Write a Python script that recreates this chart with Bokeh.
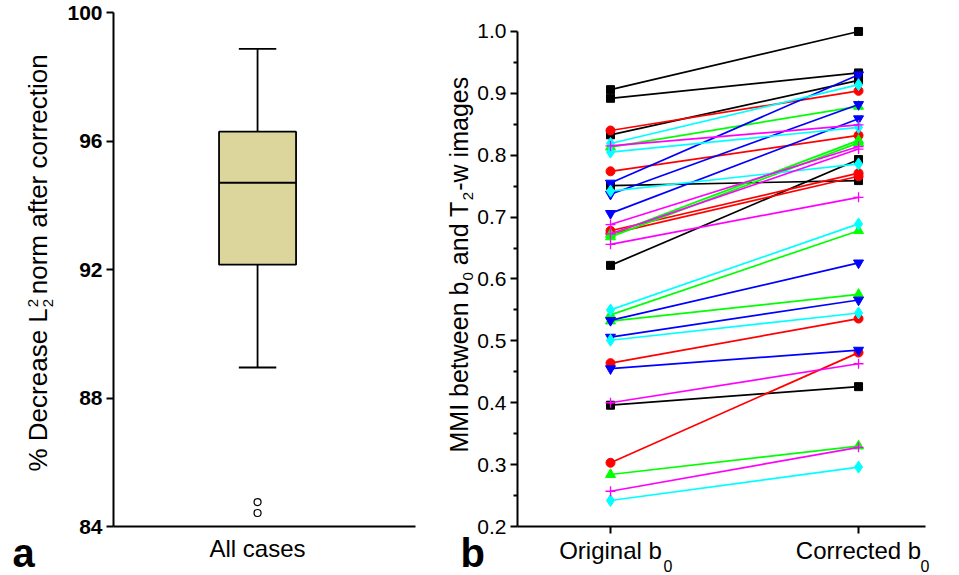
import math
from bokeh.plotting import figure
from bokeh.layouts import row
from bokeh.models import Range1d, FixedTicker, Label, ColumnDataSource, NumeralTickFormatter
from bokeh.embed import file_html
from bokeh.resources import INLINE

# ---------------- Panel a data (box plot summary) ----------------
box_category = "All cases"
box_q1 = 92.15
box_median = 94.70
box_q3 = 96.29
whisker_low = 88.95
whisker_high = 98.87
outliers = [84.76, 84.42]
a_ticks = [84, 88, 92, 96, 100]

# ---------------- Panel b data (paired MMI values) ----------------
categories = ["Original b", "Corrected b"]
b_ticks = [0.2, 0.3, 0.4, 0.5, 0.6, 0.7, 0.8, 0.9, 1.0]
b_minor = [0.25, 0.35, 0.45, 0.55, 0.65, 0.75, 0.85, 0.95]

black_orig = [0.906, 0.892, 0.833, 0.751, 0.622, 0.396]
black_corr = [1.000, 0.933, 0.921, 0.759, 0.793, 0.426]
red_orig = [0.840, 0.774, 0.678, 0.673, 0.464, 0.303]
red_corr = [0.904, 0.832, 0.771, 0.766, 0.536, 0.481]
green_orig = [0.813, 0.672, 0.668, 0.542, 0.532, 0.284]
green_corr = [0.879, 0.824, 0.820, 0.678, 0.575, 0.330]
blue_orig = [0.755, 0.737, 0.706, 0.533, 0.506, 0.455]
blue_corr = [0.930, 0.882, 0.859, 0.626, 0.566, 0.485]
cyan_orig = [0.819, 0.805, 0.742, 0.550, 0.501, 0.242]
cyan_corr = [0.914, 0.845, 0.786, 0.689, 0.545, 0.296]
magenta_orig = [0.815, 0.688, 0.673, 0.656, 0.400, 0.257]
magenta_corr = [0.849, 0.814, 0.810, 0.732, 0.463, 0.328]

FONT = "Liberation Sans"
W, H = 959, 575

# ---- layout geometry (page pixels) ----
A_W = 440                     # width of panel a canvas
A_L, A_R = 113, 415           # axis extent of panel a (page x)
A_T, A_B = 12, 526            # axis extent of panel a (page y)
B_L, B_R = 517, 925           # axis extent of panel b (page x)
B_B = 526                     # page y of panel b x-axis
a_bounds_x = (-0.477, 0.523)
a_bounds_y = (84, 100)
b_bounds_x = (-0.375, 1.27)
b_bounds_y = (0.2, 1.0)
b_ppu = 618.8                 # pixels per unit on panel b y axis


def ax(px):
    return a_bounds_x[0] + (px - A_L) / (A_R - A_L) * (a_bounds_x[1] - a_bounds_x[0])


def ay(py):
    return a_bounds_y[0] + (A_B - py) / (A_B - A_T) * (a_bounds_y[1] - a_bounds_y[0])


def bx(px):
    return b_bounds_x[0] + (px - B_L) / (B_R - B_L) * (b_bounds_x[1] - b_bounds_x[0])


def by(py):
    return b_bounds_y[0] + (B_B - py) / b_ppu


def vlabel(p, fx, fy, px, py, txt, fs, bold=False, angle=math.pi / 2):
    p.add_layout(Label(x=fx(px), y=fy(py), text=txt, angle=angle,
                       text_align="left", text_baseline="middle",
                       text_font=FONT, text_font_size=f"{fs}px",
                       text_font_style="bold" if bold else "normal",
                       text_color="black"))


def style_axis(axis):
    axis.axis_line_width = 2
    axis.major_tick_line_width = 2
    axis.minor_tick_line_width = 2
    axis.major_tick_in = 0
    axis.minor_tick_in = 0
    axis.major_label_text_font = FONT
    axis.major_label_text_color = "black"


# ================= Panel a =================
pa = figure(width=A_W, height=H, title=None, output_backend="svg", toolbar_location=None,
            x_range=Range1d(ax(0), ax(A_W)), y_range=Range1d(ay(H), ay(0)),
            min_border=0)
pa.outline_line_color = None
pa.xgrid.visible = False
pa.ygrid.visible = False

xa = pa.xaxis[0]
ya = pa.yaxis[0]
style_axis(xa)
style_axis(ya)
xa.fixed_location = a_bounds_y[0]
xa.bounds = a_bounds_x
xa.ticker = FixedTicker(ticks=[0])
xa.major_label_overrides = {0: box_category}
xa.major_tick_line_color = None
xa.major_tick_out = 0
xa.minor_tick_line_color = None
xa.major_label_text_font_size = "24px"
xa.major_label_standoff = 8

ya.fixed_location = a_bounds_x[0]
ya.bounds = a_bounds_y
ya.ticker = FixedTicker(ticks=a_ticks)
ya.major_tick_out = 7
ya.minor_tick_line_color = None
ya.major_label_text_font_size = "21px"
ya.major_label_text_font_style = "bold"
ya.major_label_standoff = 4

box_w = 0.255
cap_w = 0.124
pa.vbar(x=[0], bottom=[box_q1], top=[box_q3], width=box_w,
        fill_color="#DCD69D", line_color="black", line_width=1.8)
pa.segment(x0=[-box_w / 2], y0=[box_median], x1=[box_w / 2], y1=[box_median],
           line_color="black", line_width=2)
pa.segment(x0=[0, 0], y0=[box_q3, box_q1], x1=[0, 0], y1=[whisker_high, whisker_low],
           line_color="black", line_width=1.8)
pa.segment(x0=[-cap_w / 2, -cap_w / 2], y0=[whisker_high, whisker_low],
           x1=[cap_w / 2, cap_w / 2], y1=[whisker_high, whisker_low],
           line_color="black", line_width=1.8)
pa.scatter(x=[0] * len(outliers), y=outliers, marker="circle", size=7,
           fill_color="white", line_color="black", line_width=1.2)

# y-axis label with stacked sub/superscript (page coordinates of text centre line)
F1 = 26
xc = 37
ys = 471
w1 = 6.28 * F1
vlabel(pa, ax, ay, xc, ys, "% Decrease L", F1)
vlabel(pa, ax, ay, xc - 5, ys - w1 - 1, "2", 15)
vlabel(pa, ax, ay, xc + 10, ys - w1 - 1, "2", 15)
vlabel(pa, ax, ay, xc, ys - w1 - 14, "norm after correction", F1)
vlabel(pa, ax, ay, 12, 552, "a", 40, bold=True, angle=0)

# ================= Panel b =================
pb = figure(width=W - A_W, height=H, title=None, output_backend="svg", toolbar_location=None,
            x_range=Range1d(bx(A_W), bx(W)), y_range=Range1d(by(H), by(0)),
            min_border=0)
pb.outline_line_color = None
pb.xgrid.visible = False
pb.ygrid.visible = False

xbx = pb.xaxis[0]
ybx = pb.yaxis[0]
style_axis(xbx)
style_axis(ybx)
xbx.fixed_location = b_bounds_y[0]
xbx.bounds = b_bounds_x
xbx.ticker = FixedTicker(ticks=[0, 1])
xbx.major_label_overrides = {i: c for i, c in enumerate(categories)}
xbx.major_tick_out = 7
xbx.minor_tick_line_color = None
xbx.major_label_text_font_size = "24px"
xbx.major_label_standoff = 3

ybx.fixed_location = b_bounds_x[0]
ybx.bounds = b_bounds_y
ybx.ticker = FixedTicker(ticks=b_ticks, minor_ticks=b_minor)
ybx.formatter = NumeralTickFormatter(format="0.0")
ybx.major_tick_out = 7
ybx.minor_tick_out = 4
ybx.major_label_text_font_size = "21px"
ybx.major_label_standoff = 4

groups = [
    (black_orig, black_corr, "#000000", "square", 8),
    (red_orig, red_corr, "#FF0000", "circle", 9),
    (green_orig, green_corr, "#00FF00", "triangle", 10),
    (blue_orig, blue_corr, "#0000FF", "inverted_triangle", 10),
    (cyan_orig, cyan_corr, "#00FFFF", "diamond", 12),
    (magenta_orig, magenta_corr, "#FF00FF", "cross", 10),
]
xi0 = 0  # index of categories[0]
xi1 = 1  # index of categories[1]
for orig, corr, col, mk, sz in groups:
    n = len(orig)
    src = ColumnDataSource(dict(x0=[xi0] * n, y0=orig, x1=[xi1] * n, y1=corr))
    pb.segment(x0="x0", y0="y0", x1="x1", y1="y1", source=src, line_color=col, line_width=1.7)
    lw = 1.3 if mk == "cross" else 1
    pb.scatter(x=[xi0] * n + [xi1] * n, y=orig + corr, marker=mk, size=sz,
               fill_color=col, line_color=col, line_width=lw)

# subscripts for category labels
for xi, off in ((xi0, 53), (xi1, 62)):
    pb.add_layout(Label(x=xi, y=by(565), x_offset=off, text="0",
                        text_align="left", text_baseline="middle",
                        text_font=FONT, text_font_size="16px", text_color="black"))

# y-axis label with subscripts (page coordinates of text centre line)
F2 = 25
xc2 = 458
y2 = 452
p1 = 6.836 * F2
sw = 8.5
sp = 0.278 * F2
p2 = 2.557 * F2
vlabel(pb, bx, by, xc2, y2, "MMI between b", F2)
vlabel(pb, bx, by, xc2 + 9, y2 - p1 - 1, "0", 15)
vlabel(pb, bx, by, xc2, y2 - p1 - 1 - sw - sp, "and T", F2)
vlabel(pb, bx, by, xc2 + 9, y2 - p1 - 1 - sw - sp - p2 - 1, "2", 15)
vlabel(pb, bx, by, xc2, y2 - p1 - 1 - sw - sp - p2 - 1 - sw - 1, "-w images", F2)
vlabel(pb, bx, by, 460, 552, "b", 40, bold=True, angle=0)

layout = row(pa, pb)
open("out.html", "w").write(file_html(layout, INLINE))
